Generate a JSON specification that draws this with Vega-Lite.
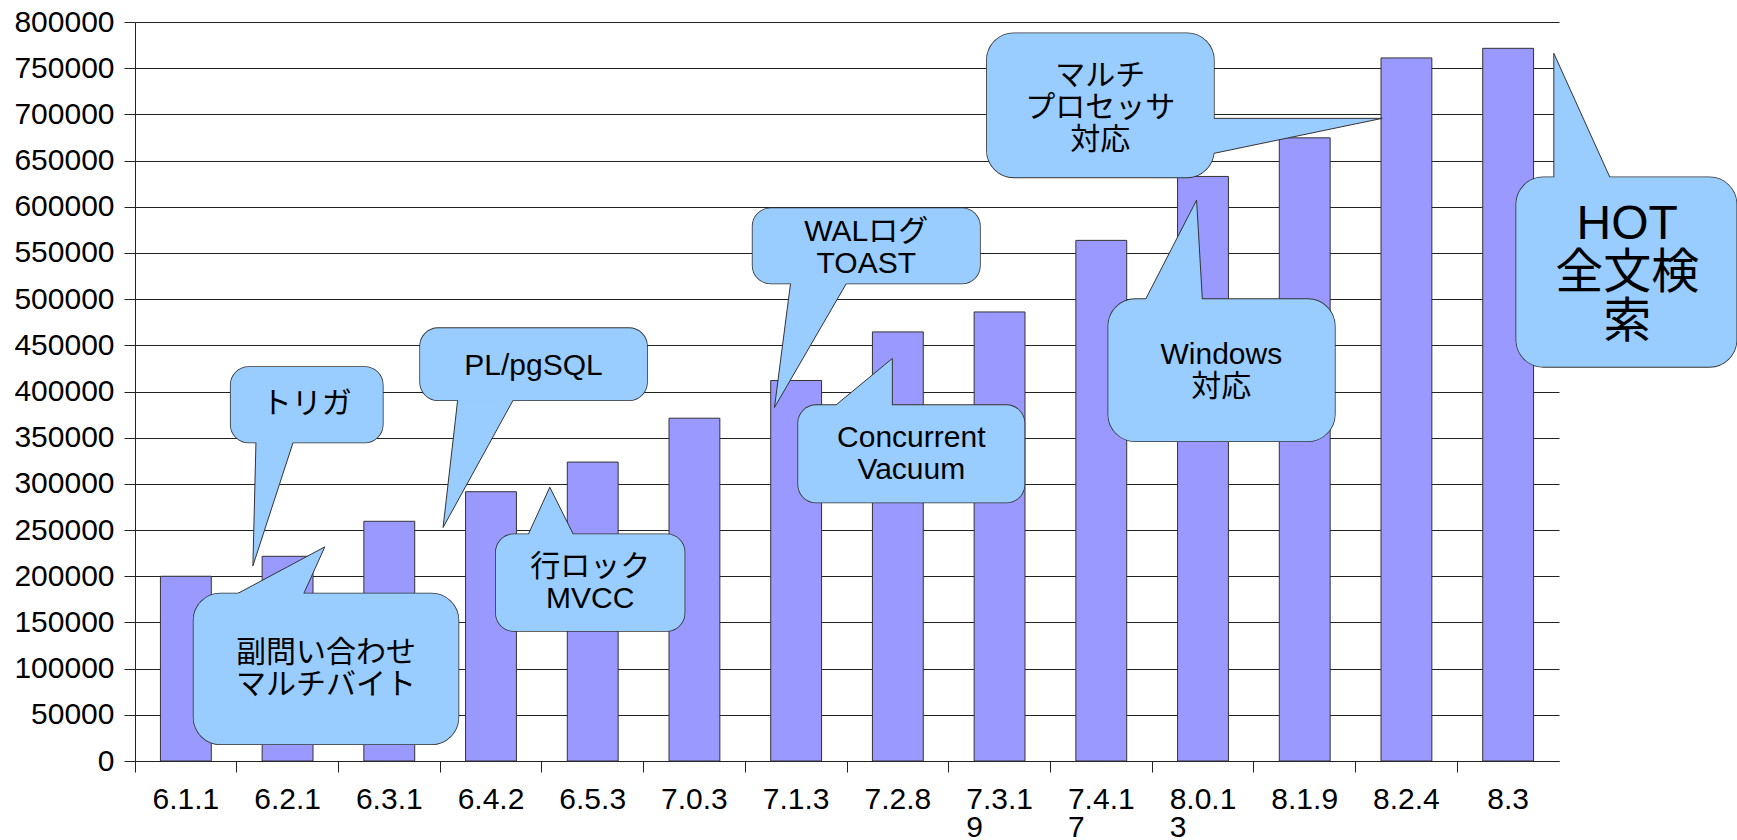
{
  "$schema": "https://vega.github.io/schema/vega-lite/v6.json",
  "width": 1424,
  "height": 739,
  "autosize": {"type": "none"},
  "padding": {"left": 135, "top": 22, "right": 178, "bottom": 79},
  "background": "#ffffff",
  "config": {
    "view": {"stroke": null},
    "font": "'Liberation Sans', 'Noto Sans CJK JP', sans-serif"
  },
  "datasets": {
    "bars": [
      {"version": "6.1.1", "loc": 200000},
      {"version": "6.2.1", "loc": 221600},
      {"version": "6.3.1", "loc": 259500},
      {"version": "6.4.2", "loc": 291500},
      {"version": "6.5.3", "loc": 323600},
      {"version": "7.0.3", "loc": 371100},
      {"version": "7.1.3", "loc": 411900},
      {"version": "7.2.8", "loc": 464500},
      {"version": "7.3.19", "loc": 486100},
      {"version": "7.4.17", "loc": 563600},
      {"version": "8.0.13", "loc": 632800},
      {"version": "8.1.9", "loc": 674600},
      {"version": "8.2.4", "loc": 761100},
      {"version": "8.3", "loc": 771500}
    ],
    "bubbles": [
      {"id": "trigger", "label": "トリガ", "left": 0.941, "right": 2.436, "top": 426400, "bottom": 344800, "tx": 1.689, "ty": 386500},
      {"id": "subquery", "label": "副問い合わせ\nマルチバイト", "left": 0.576, "right": 3.18, "top": 181300, "bottom": 18100, "tx": 1.878, "ty": 116600},
      {"id": "plpgsql", "label": "PL/pgSQL", "left": 2.803, "right": 5.034, "top": 468600, "bottom": 390600, "tx": 3.918, "ty": 427500},
      {"id": "mvcc", "label": "行ロック\nMVCC", "left": 3.548, "right": 5.403, "top": 245500, "bottom": 140800, "tx": 4.475, "ty": 210300},
      {"id": "wal", "label": "WALログ\nTOAST", "left": 6.072, "right": 8.307, "top": 598300, "bottom": 517000, "tx": 7.19, "ty": 573000},
      {"id": "vacuum", "label": "Concurrent\nVacuum", "left": 6.52, "right": 8.744, "top": 385200, "bottom": 279800, "tx": 7.632, "ty": 349300},
      {"id": "smp", "label": "マルチ\nプロセッサ\n対応", "left": 8.375, "right": 10.607, "top": 787800, "bottom": 631800, "tx": 9.49, "ty": 741800},
      {"id": "windows", "label": "Windows\n対応", "left": 9.569, "right": 11.796, "top": 500000, "bottom": 346200, "tx": 10.68, "ty": 439500},
      {"id": "hot", "label": "HOT\n全文検\n索", "left": 13.58, "right": 15.745, "top": 631800, "bottom": 426700, "tx": 14.67, "ty": 580200}
    ],
    "tails": [
      {"id": "trigger", "k": 1, "x": 1.191, "y": 353500},
      {"id": "trigger", "k": 2, "x": 1.58, "y": 353500},
      {"id": "trigger", "k": 3, "x": 1.159, "y": 211200},
      {"id": "subquery", "k": 1, "x": 0.861, "y": 172600},
      {"id": "subquery", "k": 2, "x": 1.624, "y": 172600},
      {"id": "subquery", "k": 3, "x": 1.866, "y": 231800},
      {"id": "plpgsql", "k": 1, "x": 3.181, "y": 399300},
      {"id": "plpgsql", "k": 2, "x": 3.761, "y": 399300},
      {"id": "plpgsql", "k": 3, "x": 3.029, "y": 252800},
      {"id": "mvcc", "k": 1, "x": 3.832, "y": 236900},
      {"id": "mvcc", "k": 2, "x": 4.348, "y": 236900},
      {"id": "mvcc", "k": 3, "x": 4.078, "y": 296400},
      {"id": "wal", "k": 1, "x": 6.455, "y": 525700},
      {"id": "wal", "k": 2, "x": 7.04, "y": 525700},
      {"id": "wal", "k": 3, "x": 6.287, "y": 382700},
      {"id": "vacuum", "k": 1, "x": 6.794, "y": 376600},
      {"id": "vacuum", "k": 2, "x": 7.446, "y": 376600},
      {"id": "vacuum", "k": 3, "x": 7.446, "y": 435800},
      {"id": "smp", "k": 1, "x": 10.528, "y": 695700},
      {"id": "smp", "k": 2, "x": 12.262, "y": 695700},
      {"id": "smp", "k": 3, "x": 10.528, "y": 656000},
      {"id": "windows", "k": 1, "x": 9.896, "y": 491400},
      {"id": "windows", "k": 2, "x": 10.498, "y": 491400},
      {"id": "windows", "k": 3, "x": 10.437, "y": 607200},
      {"id": "hot", "k": 1, "x": 13.949, "y": 623200},
      {"id": "hot", "k": 2, "x": 14.536, "y": 623200},
      {"id": "hot", "k": 3, "x": 13.949, "y": 766100}
    ]
  },
  "layer": [
    {
      "data": {"name": "bars"},
      "mark": {"type": "bar", "fill": "#9999ff", "stroke": "#333333", "strokeWidth": 1},
      "encoding": {
        "x": {
          "field": "version",
          "type": "nominal",
          "sort": null,
          "scale": {"paddingInner": 0.5, "paddingOuter": 0.25},
          "axis": {
            "title": null,
            "labelAngle": 0,
            "bandPosition": -0.5,
            "tickSize": 11,
            "tickColor": "#222222",
            "domainColor": "#222222",
            "labelPadding": 12,
            "labelFontSize": 30,
            "labelLineHeight": 28,
            "labelColor": "#000000",
            "labelFont": "'Liberation Sans', sans-serif",
            "labelExpr": "length(datum.label) > 5 ? [substring(datum.label, 0, 5), substring(datum.label, 5) + '\u00a0\u00a0\u00a0\u00a0\u00a0\u00a0\u200b'] : datum.label"
          }
        },
        "y": {
          "field": "loc",
          "type": "quantitative",
          "scale": {"domain": [0, 800000], "nice": false},
          "axis": {
            "title": null,
            "values": [0, 50000, 100000, 150000, 200000, 250000, 300000, 350000, 400000, 450000, 500000, 550000, 600000, 650000, 700000, 750000, 800000],
            "format": "d",
            "grid": true,
            "gridColor": "#222222",
            "gridWidth": 1,
            "gridOpacity": 1,
            "domainColor": "#222222",
            "tickColor": "#222222",
            "tickSize": 11,
            "labelPadding": 10,
            "labelFontSize": 30,
            "labelColor": "#000000",
            "labelFont": "'Liberation Sans', sans-serif"
          }
        }
      }
    },
    {
      "layer": [
        {
          "data": {"name": "bubbles"},
          "mark": {"type": "rect", "fill": "#99ccff", "stroke": "#333333", "strokeWidth": 1.6, "cornerRadius": {"expr": "(datum.top - datum.bottom) > 120000 ? 27 : 18"}},
          "encoding": {
            "x": {"field": "left", "type": "quantitative", "scale": {"domain": [0, 14], "nice": false, "zero": false}, "axis": null},
            "x2": {"field": "right"},
            "y": {"field": "top", "type": "quantitative", "scale": {"domain": [0, 800000], "nice": false}, "axis": null},
            "y2": {"field": "bottom"}
          }
        },
        {
          "data": {"name": "tails"},
          "mark": {"type": "line", "filled": true, "interpolate": "linear-closed", "fill": "#99ccff", "stroke": "#333333", "strokeWidth": 1},
          "encoding": {
            "x": {"field": "x", "type": "quantitative", "axis": null},
            "y": {"field": "y", "type": "quantitative", "axis": null},
            "detail": {"field": "id"},
            "order": {"field": "k"}
          }
        },
        {
          "data": {"name": "bubbles"},
          "mark": {"type": "rect", "fill": "#99ccff", "strokeWidth": 0, "cornerRadius": {"expr": "(datum.top - datum.bottom) > 120000 ? 27 : 18"}},
          "encoding": {
            "x": {"field": "left", "type": "quantitative", "axis": null},
            "x2": {"field": "right"},
            "y": {"field": "top", "type": "quantitative", "axis": null},
            "y2": {"field": "bottom"}
          }
        },
        {
          "data": {"name": "bubbles"},
          "transform": [{"filter": "datum.id != 'hot'"}],
          "mark": {"type": "text", "fontSize": 30, "lineHeight": 32, "lineBreak": "\n", "color": "#000000", "font": "'Liberation Sans', 'Noto Sans CJK JP', sans-serif"},
          "encoding": {
            "x": {"field": "tx", "type": "quantitative", "axis": null},
            "y": {"field": "ty", "type": "quantitative", "axis": null},
            "text": {"field": "label"}
          }
        },
        {
          "data": {"name": "bubbles"},
          "transform": [{"filter": "datum.id == 'hot'"}],
          "mark": {"type": "text", "fontSize": 48, "lineHeight": 49, "lineBreak": "\n", "color": "#000000", "font": "'Liberation Sans', 'Noto Sans CJK JP', sans-serif"},
          "encoding": {
            "x": {"field": "tx", "type": "quantitative", "axis": null},
            "y": {"field": "ty", "type": "quantitative", "axis": null},
            "text": {"field": "label"}
          }
        }
      ]
    }
  ],
  "resolve": {"scale": {"x": "independent", "y": "independent"}}
}
